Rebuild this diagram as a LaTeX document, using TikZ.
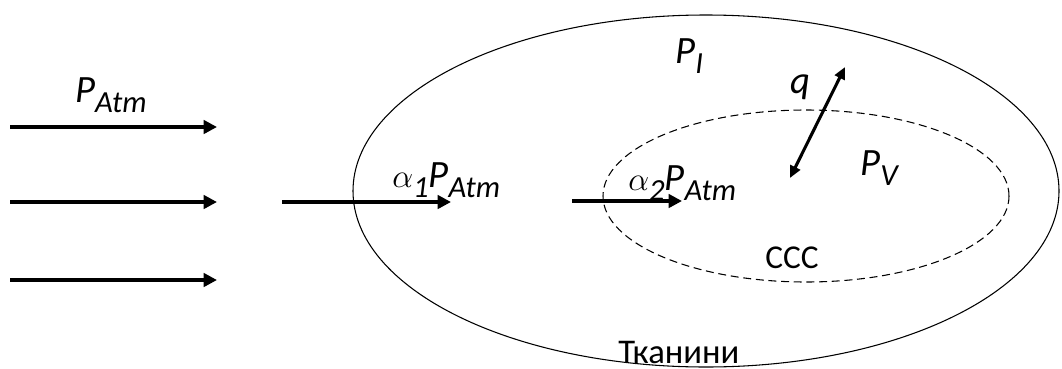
\documentclass[tikz,border=0pt]{standalone}
\usepackage{fontspec}
\setmainfont{Carlito}
\usetikzlibrary{arrows.meta}
\newcommand{\lsub}[1]{\raisebox{-8pt}{\fontsize{23}{23}\selectfont #1}}
\newcommand{\galpha}{{\fontsize{27}{27}\selectfont$\alpha$}}

\begin{document}
\begin{tikzpicture}[x=0.75pt, y=-0.75pt,
  lbl/.style    = {inner sep=0pt, anchor=base west, font=\fontsize{29}{30}\selectfont\itshape},
  word/.style   = {inner sep=0pt, anchor=base west, font=\fontsize{25}{26}\selectfont},
  arr/.style    = {-{Triangle[length=10pt,width=10pt]}, line width=3pt},
  dblarr/.style = {{Triangle[length=9pt,width=8pt]}-{Triangle[length=9pt,width=8pt]}, line width=2.3pt},
  wall/.style   = {line width=0.8pt},
  vessel/.style = {line width=0.8pt, dash pattern=on 6pt off 3.5pt},
]
\useasboundingbox (0,0) rectangle (1062,368);
% tissue and vessels
\draw[wall] (706,191) ellipse [x radius=353, y radius=176];
\draw[vessel] (806,196) ellipse [x radius=203, y radius=86];
% labels
\node[lbl] (patm) at (75,102) {P\lsub{Atm}};
\node[lbl] (aone) at (392,187) {\galpha\lsub{1}P\lsub{Atm}};
\node[lbl] (atwo) at (628,190) {\galpha\lsub{2}P\lsub{Atm}};
\node[lbl] (pint) at (675,63) {P\lsub{I}};
\node[lbl] (qlbl) at (790,93) {q};
\node[lbl] (pv) at (860,175) {P\lsub{V}};
\node[word] (ccc) at (765,268) {CCC};
\node[word, font=\fontsize{26}{27}\selectfont] (tissue) at (618,363) {Тканини};
% arrow ends
\coordinate (in1s) at (10,127);  \coordinate (in1e) at (217,127);
\coordinate (in2s) at (10,202);  \coordinate (in2e) at (217,202);
\coordinate (in3s) at (10,280);  \coordinate (in3e) at (217,280);
\coordinate (t1s) at (282,202);  \coordinate (t1e) at (451,202);
\coordinate (t2s) at (572,201);  \coordinate (t2e) at (682,201);
\coordinate (qs) at (790,178);   \coordinate (qe) at (845,67);
\draw[arr] (in1s) -- (in1e);
\draw[arr] (in2s) -- (in2e);
\draw[arr] (in3s) -- (in3e);
\draw[arr] (t1s) -- (t1e);
\draw[arr] (t2s) -- (t2e);
\draw[dblarr] (qs) -- (qe);
\end{tikzpicture}
\end{document}
